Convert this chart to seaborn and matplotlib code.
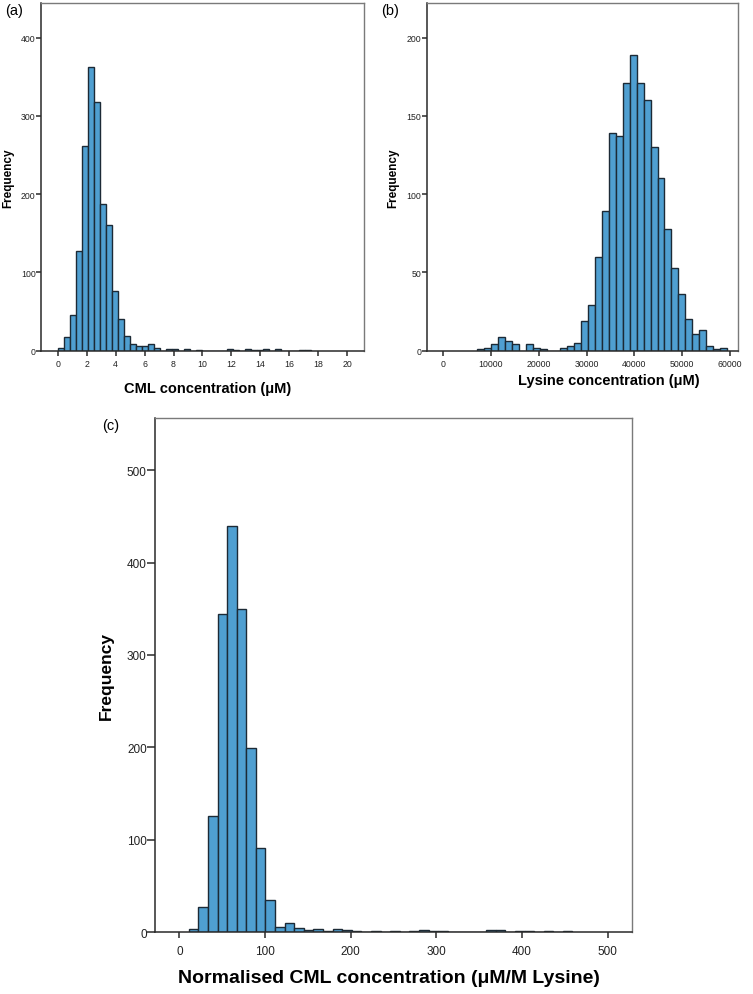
import numpy as np
import pandas as pd
import matplotlib
matplotlib.use("Agg")
import matplotlib.pyplot as plt
import seaborn as sns

# (a) CML concentration, bin width 5/12 uM starting at 0
cml_start, cml_width = 0.0, 5 / 12
cml_counts = [4, 17, 46, 127, 262, 362, 318, 188, 160, 76, 40, 19, 9, 6, 6, 8, 3, 0,
              2, 2, 0, 2, 0, 1, 0, 0, 0, 0, 2, 1, 0, 2, 1, 1, 2, 0, 2, 0, 0, 0, 1, 1]

# (b) Lysine concentration
lys_start, lys_width = 7150.0, 1450.0
lys_counts = [1, 2, 4, 9, 6, 4, 0, 4, 2, 1, 0, 0, 2, 3, 5, 19, 29, 60, 89, 139, 137,
              171, 189, 171, 160, 130, 110, 78, 53, 36, 20, 11, 13, 3, 1, 2]

# (c) Normalised CML concentration
norm_start, norm_width = 10.8, 11.2
norm_counts = [4, 27, 126, 344, 439, 350, 199, 91, 35, 6, 10, 5, 3, 4, 1, 4, 3, 1, 0, 1,
               0, 1, 0, 1, 2, 1, 1, 0, 0, 0, 0, 3, 2, 0, 1, 1, 0, 1, 0, 1]

BAR = "#4f9fd1"
EDGE = "#1c2a36"

sns.set_style("white")
plt.rcParams["font.family"] = ["Liberation Sans", "DejaVu Sans"]
plt.rcParams["text.color"] = "black"
plt.rcParams["axes.labelcolor"] = "black"

fig = plt.figure(figsize=(7.53, 9.95), dpi=100)


def hist_panel(ax, start, width, counts, xlim, ylim, xticks, yticks,
               tick_fs, ylen, xlen, xpad):
    counts = np.array(counts, dtype=float)
    edges = start + width * np.arange(len(counts) + 1)
    centers = (edges[:-1] + edges[1:]) / 2
    df = pd.DataFrame({"value": centers, "n": counts})
    sns.histplot(data=df, x="value", weights="n", bins=list(edges), ax=ax,
                 color=BAR, alpha=1, edgecolor=EDGE, linewidth=1.0)
    ax.set_xlim(*xlim)
    ax.set_ylim(*ylim)
    ax.set_xticks(list(xticks))
    ax.set_yticks(list(yticks))
    for side in ["left", "bottom"]:
        ax.spines[side].set_color("#2a2a2a")
        ax.spines[side].set_linewidth(1.1)
    for side in ["top", "right"]:
        ax.spines[side].set_visible(True)
        ax.spines[side].set_color("#7a7a7a")
        ax.spines[side].set_linewidth(1.0)
    ax.tick_params(axis="y", direction="out", length=ylen, width=1.1,
                   color="#2a2a2a", labelsize=tick_fs, labelcolor="#222222", pad=0.5)
    ax.tick_params(axis="x", direction="out", length=xlen, width=1.1,
                   color="#2a2a2a", labelsize=tick_fs, labelcolor="#222222", pad=xpad)
    ax.tick_params(left=True, bottom=True)


# panel (a)
ax_a = fig.add_axes([0.0548, 0.6465, 0.4286, 0.3494])
hist_panel(ax_a, cml_start, cml_width, cml_counts, (-1.13, 21.15), (0, 444),
           range(0, 21, 2), range(0, 401, 100), 6.3, 3.6, 3.6, 2.5)
ax_a.set_xlabel("CML concentration (μM)", fontsize=10.5, fontweight="bold", va="top")
ax_a.xaxis.set_label_coords(0.515, -0.086)
ax_a.set_ylabel("Frequency", fontsize=8.5, fontweight="bold", va="center")
ax_a.yaxis.set_label_coords(-0.103, 0.5)
fig.text(5 / 753, 1 - 4 / 995, "(a)", fontsize=10.5, va="top", ha="left")

# panel (b)
ax_b = fig.add_axes([0.5667, 0.6465, 0.4138, 0.3494])
hist_panel(ax_b, lys_start, lys_width, lys_counts, (-3408, 61740), (0, 222),
           range(0, 60001, 10000), range(0, 201, 50), 6.3, 3.6, 3.6, 2.5)
ax_b.set_xlabel("Lysine concentration (μM)", fontsize=10.5, fontweight="bold", va="top")
ax_b.xaxis.set_label_coords(0.583, -0.065)
ax_b.set_ylabel("Frequency", fontsize=8.5, fontweight="bold", va="center")
ax_b.yaxis.set_label_coords(-0.107, 0.5)
fig.text(381 / 753, 1 - 4 / 995, "(b)", fontsize=10.5, va="top", ha="left")

# panel (c)
ax_c = fig.add_axes([0.2065, 0.0620, 0.6325, 0.5166])
hist_panel(ax_c, norm_start, norm_width, norm_counts, (-28, 528), (0, 556),
           range(0, 501, 100), range(0, 501, 100), 8.5, 5.8, 4.3, 5)
ax_c.set_xlabel("Normalised CML concentration (μM/M Lysine)", fontsize=14,
                fontweight="bold", va="top")
ax_c.xaxis.set_label_coords(0.49, -0.072)
ax_c.set_ylabel("Frequency", fontsize=12.5, fontweight="bold", va="center")
ax_c.yaxis.set_label_coords(-0.104, 0.5)
fig.text(102 / 753, 1 - 419 / 995, "(c)", fontsize=10.5, va="top", ha="left")

fig.savefig("out.png", dpi=100, facecolor="white")
